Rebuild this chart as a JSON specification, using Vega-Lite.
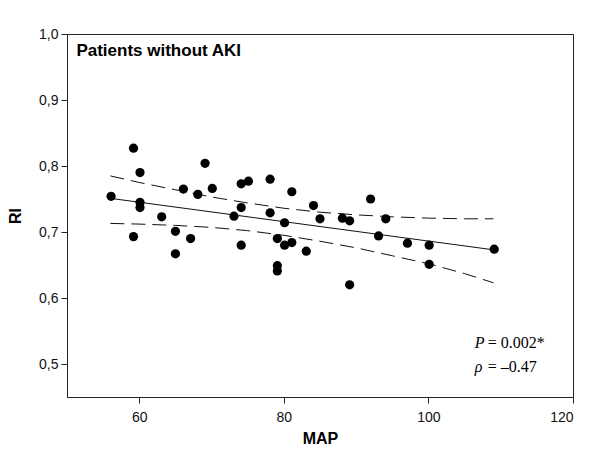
{
  "$schema": "https://vega.github.io/schema/vega-lite/v6.json",
  "autosize": "none",
  "width": 506,
  "height": 363,
  "padding": {"left": 67, "top": 34, "right": 27, "bottom": 65},
  "background": "white",
  "config": {
    "view": {"stroke": "#222", "strokeWidth": 1},
    "axis": {
      "grid": false,
      "domainColor": "#222",
      "tickColor": "#222",
      "tickSize": 6,
      "labelFont": "Liberation Sans",
      "labelFontSize": 14,
      "labelColor": "#111",
      "titleFont": "Liberation Sans",
      "titleFontSize": 16,
      "titleFontWeight": "bold",
      "titleColor": "#000"
    }
  },
  "datasets": {
    "pts": [
      {"MAP": 56.1, "RI": 0.754}, {"MAP": 59.2, "RI": 0.827}, {"MAP": 59.2, "RI": 0.693},
      {"MAP": 60.1, "RI": 0.79}, {"MAP": 60.1, "RI": 0.745}, {"MAP": 60.1, "RI": 0.737},
      {"MAP": 63.1, "RI": 0.723}, {"MAP": 65.0, "RI": 0.701}, {"MAP": 65.0, "RI": 0.667},
      {"MAP": 66.1, "RI": 0.765}, {"MAP": 67.1, "RI": 0.69}, {"MAP": 68.1, "RI": 0.757},
      {"MAP": 69.1, "RI": 0.804}, {"MAP": 70.1, "RI": 0.766}, {"MAP": 73.1, "RI": 0.724},
      {"MAP": 74.1, "RI": 0.773}, {"MAP": 75.1, "RI": 0.777}, {"MAP": 74.1, "RI": 0.737},
      {"MAP": 74.1, "RI": 0.68}, {"MAP": 78.1, "RI": 0.78}, {"MAP": 78.1, "RI": 0.729},
      {"MAP": 81.1, "RI": 0.761}, {"MAP": 80.1, "RI": 0.714}, {"MAP": 79.1, "RI": 0.69},
      {"MAP": 80.1, "RI": 0.68}, {"MAP": 81.1, "RI": 0.684}, {"MAP": 79.1, "RI": 0.649},
      {"MAP": 79.1, "RI": 0.641}, {"MAP": 83.1, "RI": 0.671}, {"MAP": 84.1, "RI": 0.74},
      {"MAP": 85.0, "RI": 0.72}, {"MAP": 88.1, "RI": 0.721}, {"MAP": 89.1, "RI": 0.717},
      {"MAP": 89.1, "RI": 0.62}, {"MAP": 92.0, "RI": 0.75}, {"MAP": 93.1, "RI": 0.694},
      {"MAP": 94.1, "RI": 0.72}, {"MAP": 97.1, "RI": 0.683}, {"MAP": 100.1, "RI": 0.68},
      {"MAP": 100.1, "RI": 0.651}, {"MAP": 109.1, "RI": 0.674}
    ],
    "fit": [
      {"MAP": 56, "RI": 0.751}, {"MAP": 109, "RI": 0.673}
    ],
    "ci": [
      {"MAP": 56, "RI": 0.713, "band": "lower"}, {"MAP": 60, "RI": 0.712, "band": "lower"},
      {"MAP": 65, "RI": 0.710, "band": "lower"}, {"MAP": 70, "RI": 0.707, "band": "lower"},
      {"MAP": 75, "RI": 0.702, "band": "lower"}, {"MAP": 80, "RI": 0.695, "band": "lower"},
      {"MAP": 85, "RI": 0.686, "band": "lower"}, {"MAP": 90, "RI": 0.676, "band": "lower"},
      {"MAP": 95, "RI": 0.664, "band": "lower"}, {"MAP": 100, "RI": 0.652, "band": "lower"},
      {"MAP": 105, "RI": 0.637, "band": "lower"}, {"MAP": 109, "RI": 0.623, "band": "lower"},
      {"MAP": 56, "RI": 0.785, "band": "upper"}, {"MAP": 60, "RI": 0.775, "band": "upper"},
      {"MAP": 65, "RI": 0.764, "band": "upper"}, {"MAP": 70, "RI": 0.753, "band": "upper"},
      {"MAP": 75, "RI": 0.744, "band": "upper"}, {"MAP": 80, "RI": 0.736, "band": "upper"},
      {"MAP": 85, "RI": 0.730, "band": "upper"}, {"MAP": 90, "RI": 0.726, "band": "upper"},
      {"MAP": 95, "RI": 0.723, "band": "upper"}, {"MAP": 100, "RI": 0.721, "band": "upper"},
      {"MAP": 105, "RI": 0.720, "band": "upper"}, {"MAP": 109, "RI": 0.720, "band": "upper"}
    ],
    "title": [{"MAP": 51.3, "RI": 0.974, "text": "Patients without AKI"}],
    "italic": [
      {"MAP": 106.4, "RI": 0.532, "text": "P"},
      {"MAP": 106.4, "RI": 0.496, "text": "ρ"}
    ],
    "plain": [
      {"MAP": 108.2, "RI": 0.532, "text": "= 0.002*"},
      {"MAP": 108.2, "RI": 0.496, "text": "= –0.47"}
    ]
  },
  "encoding": {
    "x": {
      "field": "MAP", "type": "quantitative",
      "scale": {"domain": [50, 120], "nice": false, "zero": false},
      "axis": {"values": [60, 80, 100, 120], "title": "MAP", "labelPadding": 7, "titlePadding": 6}
    },
    "y": {
      "field": "RI", "type": "quantitative",
      "scale": {"domain": [0.45, 1.0], "nice": false, "zero": false},
      "axis": {
        "values": [0.5, 0.6, 0.7, 0.8, 0.9, 1.0],
        "labelExpr": "replace(format(datum.value, '.1f'), '.', ',')",
        "title": "RI", "labelPadding": 3, "titlePadding": 15
      }
    }
  },
  "layer": [
    {
      "data": {"name": "ci"},
      "mark": {"type": "line", "color": "#111", "strokeWidth": 1, "strokeDash": [14, 7]},
      "encoding": {"detail": {"field": "band"}}
    },
    {
      "data": {"name": "fit"},
      "mark": {"type": "line", "color": "#111", "strokeWidth": 1}
    },
    {
      "data": {"name": "pts"},
      "mark": {"type": "circle", "color": "#000", "opacity": 1, "size": 85}
    },
    {
      "data": {"name": "title"},
      "mark": {"type": "text", "align": "left", "baseline": "middle", "font": "Liberation Sans", "fontWeight": "bold", "fontSize": 17, "color": "#000"},
      "encoding": {"text": {"field": "text"}}
    },
    {
      "data": {"name": "italic"},
      "mark": {"type": "text", "align": "left", "baseline": "middle", "font": "Liberation Serif", "fontStyle": "italic", "fontSize": 16, "color": "#000"},
      "encoding": {"text": {"field": "text"}}
    },
    {
      "data": {"name": "plain"},
      "mark": {"type": "text", "align": "left", "baseline": "middle", "font": "Liberation Serif", "fontSize": 16, "color": "#000"},
      "encoding": {"text": {"field": "text"}}
    }
  ]
}
